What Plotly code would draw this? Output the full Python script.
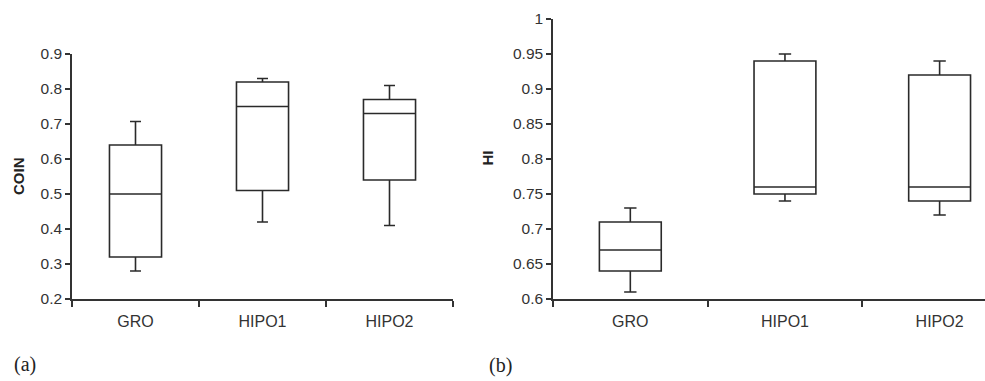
import plotly.graph_objects as go

categories = ["GRO", "HIPO1", "HIPO2"]

# Panel (a): COIN
coin_min = [0.28, 0.42, 0.41]
coin_q1 = [0.32, 0.51, 0.54]
coin_med = [0.50, 0.75, 0.73]
coin_q3 = [0.64, 0.82, 0.77]
coin_max = [0.707, 0.83, 0.81]

# Panel (b): HI
hi_min = [0.61, 0.74, 0.72]
hi_q1 = [0.64, 0.75, 0.74]
hi_med = [0.67, 0.76, 0.76]
hi_q3 = [0.71, 0.94, 0.92]
hi_max = [0.73, 0.95, 0.94]

coin_ticks = [0.2, 0.3, 0.4, 0.5, 0.6, 0.7, 0.8, 0.9]
coin_ticktext = ["0.2", "0.3", "0.4", "0.5", "0.6", "0.7", "0.8", "0.9"]
hi_ticks = [0.6, 0.65, 0.7, 0.75, 0.8, 0.85, 0.9, 0.95, 1.0]
hi_ticktext = ["0.6", "0.65", "0.7", "0.75", "0.8", "0.85", "0.9", "0.95", "1"]

W, H = 985, 381
LINE = "#2a2a2a"
AX = "#333333"
YTICKFONT = dict(family="Arial", size=15.5, color="#333333")
XTICKFONT = dict(family="Arial", size=16, color="#333333")

fig = go.Figure()

fig.add_trace(go.Box(
    x=categories, q1=coin_q1, median=coin_med, q3=coin_q3,
    lowerfence=coin_min, upperfence=coin_max,
    xaxis="x", yaxis="y",
    fillcolor="white", line=dict(color=LINE, width=1.6),
    width=0.41, whiskerwidth=0.21, boxpoints=False, showlegend=False,
    hoverinfo="skip",
))
fig.add_trace(go.Box(
    x=categories, q1=hi_q1, median=hi_med, q3=hi_q3,
    lowerfence=hi_min, upperfence=hi_max,
    xaxis="x2", yaxis="y2",
    fillcolor="white", line=dict(color=LINE, width=1.6),
    width=0.40, whiskerwidth=0.2, boxpoints=False, showlegend=False,
    hoverinfo="skip",
))

xcommon = dict(
    type="category", showline=True, linecolor=AX, linewidth=1.5,
    ticks="outside", ticklen=6, tickcolor=AX, tickwidth=1.5,
    tickson="boundaries", showgrid=False, zeroline=False,
    tickfont=XTICKFONT, ticklabelstandoff=7, automargin=False,
)
ycommon = dict(
    showline=True, linecolor=AX, linewidth=1.5,
    ticks="outside", ticklen=5, tickcolor=AX, tickwidth=1.5,
    showgrid=False, zeroline=False, tickfont=YTICKFONT, automargin=False,
)

fig.update_layout(
    width=W, height=H,
    margin=dict(l=0, r=0, t=0, b=0, pad=0, autoexpand=False),
    paper_bgcolor="white", plot_bgcolor="white",
    xaxis=dict(domain=[72 / W, 453 / W], anchor="y", range=[-0.5, 2.5], **xcommon),
    yaxis=dict(domain=[1 - 299 / H, 1 - 54 / H], anchor="x", range=[0.2, 0.9],
               tickvals=coin_ticks, ticktext=coin_ticktext, **ycommon),
    xaxis2=dict(domain=[553 / W, 1.0], anchor="y2", range=[-0.5, 2.5 - (1017 - 985) / 155], **xcommon),
    yaxis2=dict(domain=[1 - 299 / H, 1 - 19 / H], anchor="x2", range=[0.6, 1.0],
                tickvals=hi_ticks, ticktext=hi_ticktext, **ycommon),
    annotations=[
        dict(text="<b>COIN</b>", x=18.5 / W, y=1 - 176.5 / H, xref="paper", yref="paper",
             textangle=-90, showarrow=False, xanchor="center", yanchor="middle",
             font=dict(family="Arial", size=15, color="#222")),
        dict(text="<b>HI</b>", x=487 / W, y=1 - 158.5 / H, xref="paper", yref="paper",
             textangle=-90, showarrow=False, xanchor="center", yanchor="middle",
             font=dict(family="Arial", size=15, color="#222")),
        dict(text="(a)", x=12 / W, y=1 - 364 / H, xref="paper", yref="paper",
             xanchor="left", yanchor="middle", showarrow=False,
             font=dict(family="Liberation Serif", size=20, color="#222")),
        dict(text="(b)", x=487 / W, y=1 - 365 / H, xref="paper", yref="paper",
             xanchor="left", yanchor="middle", showarrow=False,
             font=dict(family="Liberation Serif", size=20, color="#222")),
    ],
)

fig.write_html("out.html")
